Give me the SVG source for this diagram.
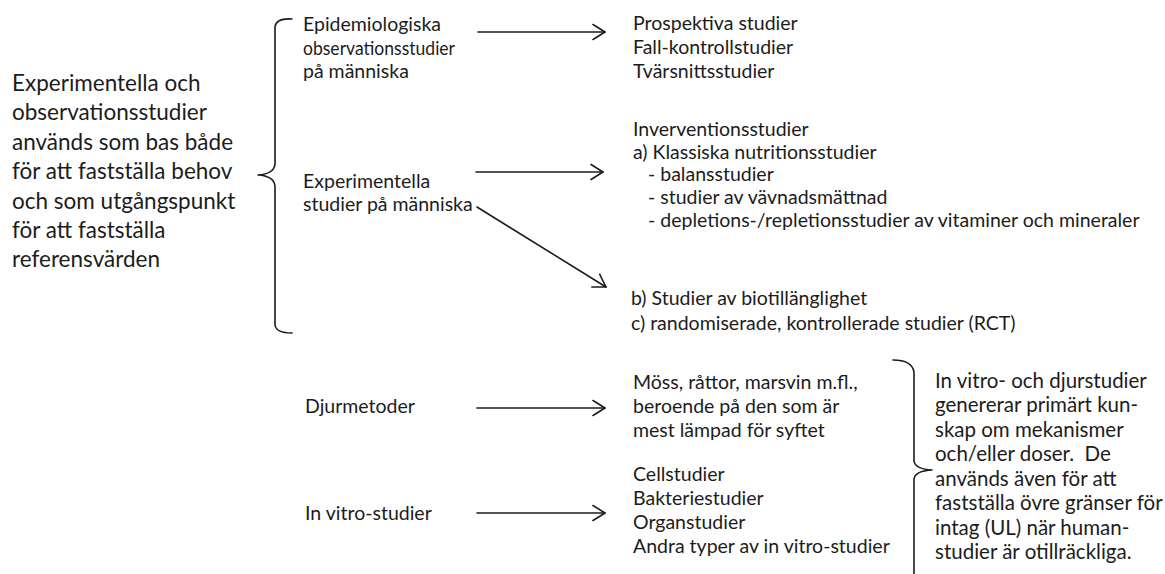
<svg xmlns="http://www.w3.org/2000/svg" width="1165" height="574" viewBox="0 0 1165 574">
  <style>
    text { font-family: Lato, "Liberation Sans", sans-serif; fill: #1c1c1c; }
    .big { font-size: 22.5px; }
    .txt { font-size: 19.5px; }
    .note { font-size: 20.5px; white-space: pre; }
    .line { fill: none; stroke: #1c1c1c; stroke-width: 1.6; stroke-linecap: round; stroke-linejoin: round; }
  </style>
  <defs>
    <marker id="chevron" markerUnits="userSpaceOnUse" viewBox="-16 -10 18 20" refX="0" refY="0" markerWidth="18" markerHeight="20" orient="auto">
      <path d="M-12,-7.5 L0,0 L-12,7.5" fill="none" stroke="#1c1c1c" stroke-width="1.6" stroke-linecap="round" stroke-linejoin="round"/>
    </marker>
  </defs>

  <rect width="1165" height="574" fill="#ffffff"/>

  <!-- connectors: braces and arrows -->
  <g id="connectors">
    <path id="brace-main" class="line" d="M292,19 Q276,18 275,27 L275,164 Q274,174 258,175 Q274,176 275,186 L275,325 Q276,333 292,333"/>
    <path id="brace-note" class="line" d="M893,360 Q912,360 914,372 L914,461 Q915,469 932,470 Q915,471 914,479 L914,576"/>
    <line class="line" x1="478" y1="32" x2="605" y2="32" marker-end="url(#chevron)"/>
    <line class="line" x1="476" y1="172" x2="603" y2="172" marker-end="url(#chevron)"/>
    <line class="line" x1="477" y1="207" x2="606" y2="287" marker-end="url(#chevron)"/>
    <line class="line" x1="477" y1="408" x2="605" y2="408" marker-end="url(#chevron)"/>
    <line class="line" x1="477" y1="513" x2="605" y2="513" marker-end="url(#chevron)"/>
  </g>

  <!-- root statement -->
  <g id="source">
    <text class="big" x="12" y="91">Experimentella och</text>
    <text class="big" x="12" y="120">observationsstudier</text>
    <text class="big" x="12" y="150">används som bas både</text>
    <text class="big" x="12" y="179">för att fastställa behov</text>
    <text class="big" x="12" y="209">och som utgångspunkt</text>
    <text class="big" x="12" y="238">för att fastställa</text>
    <text class="big" x="12" y="267">referensvärden</text>
  </g>

  <!-- study categories -->
  <g id="epidemiological">
    <text class="txt" x="303" y="31">Epidemiologiska</text>
    <text class="txt" x="303" y="55" textLength="152" lengthAdjust="spacingAndGlyphs">observationsstudier</text>
    <text class="txt" x="303" y="78">på människa</text>
  </g>
  <g id="experimental">
    <text class="txt" x="303" y="188">Experimentella</text>
    <text class="txt" x="303" y="211">studier på människa</text>
  </g>
  <g id="animal-methods">
    <text class="txt" x="305" y="413">Djurmetoder</text>
  </g>
  <g id="in-vitro">
    <text class="txt" x="305" y="520">In vitro-studier</text>
  </g>

  <!-- study designs -->
  <g id="observational-designs">
    <text class="txt" x="633" y="30">Prospektiva studier</text>
    <text class="txt" x="633" y="54">Fall-kontrollstudier</text>
    <text class="txt" x="633" y="78">Tvärsnittsstudier</text>
  </g>
  <g id="intervention-designs">
    <text class="txt" x="633" y="136">Inverventionsstudier</text>
    <text class="txt" x="633" y="159">a) Klassiska nutritionsstudier</text>
    <text class="txt" x="648" y="181">- balansstudier</text>
    <text class="txt" x="648" y="204">- studier av vävnadsmättnad</text>
    <text class="txt" x="648" y="227">- depletions-/repletionsstudier av vitaminer och mineraler</text>
  </g>
  <g id="other-trials">
    <text class="txt" x="631" y="305">b) Studier av biotillänglighet</text>
    <text class="txt" x="631" y="330">c) randomiserade, kontrollerade studier (RCT)</text>
  </g>
  <g id="animal-models">
    <text class="txt" x="633" y="389">Möss, råttor, marsvin m.fl.,</text>
    <text class="txt" x="633" y="413">beroende på den som är</text>
    <text class="txt" x="633" y="437">mest lämpad för syftet</text>
  </g>
  <g id="in-vitro-models">
    <text class="txt" x="633" y="481">Cellstudier</text>
    <text class="txt" x="633" y="505">Bakteriestudier</text>
    <text class="txt" x="633" y="529">Organstudier</text>
    <text class="txt" x="633" y="553">Andra typer av in vitro-studier</text>
  </g>

  <!-- summary note -->
  <g id="note">
    <text class="note" x="935" y="388">In vitro- och djurstudier</text>
    <text class="note" x="935" y="412">genererar primärt kun-</text>
    <text class="note" x="935" y="437">skap om mekanismer</text>
    <text class="note" x="935" y="461">och/eller doser.  De</text>
    <text class="note" x="935" y="486">används även för att</text>
    <text class="note" x="935" y="510">fastställa övre gränser för</text>
    <text class="note" x="935" y="535">intag (UL) när human-</text>
    <text class="note" x="935" y="559">studier är otillräckliga.</text>
  </g>
</svg>
